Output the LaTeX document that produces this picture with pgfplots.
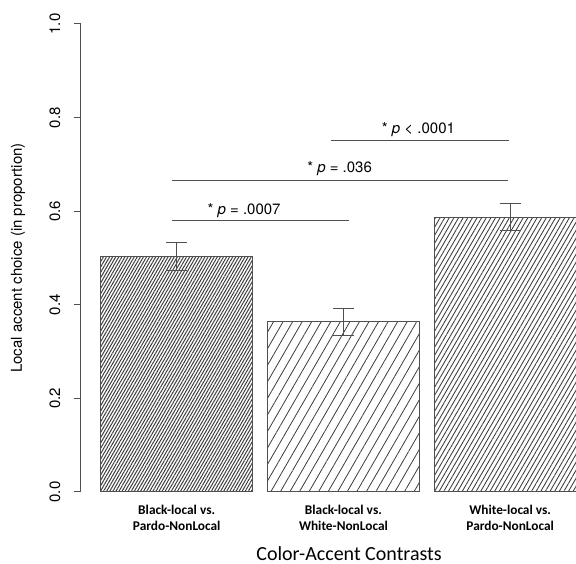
\documentclass[border=0pt]{standalone}
\usepackage{pgfplots}
\pgfplotsset{compat=1.18}
\usepackage{fontspec}
\setmainfont{TeX Gyre Heros}
\newfontfamily\calibri{Carlito}
\usetikzlibrary{patterns.meta}
\definecolor{axgray}{HTML}{505050}
\definecolor{hatch}{HTML}{3C3C3C}
\begin{document}
\begin{tikzpicture}
\path[use as bounding box] (-60.75pt,-54pt) rectangle (371.25pt,369pt);
\begin{axis}[
  at={(0pt,0pt)}, anchor=south west,
  scale only axis,
  width=371.25pt, height=351pt,
  xmin=0.426, xmax=3.395,
  ymin=0, ymax=1,
  clip mode=individual,
  axis y line*=left,
  axis x line=none,
  y axis line style={draw=axgray, line width=0.75pt},
  ytick={0,0.2,0.4,0.6,0.8,1.0},
  tick align=outside,
  major tick length=5.25pt,
  ytick style={draw=axgray, line width=0.75pt},
  /pgf/number format/assume math mode=true,
  yticklabel={\pgfmathprintnumber[fixed,fixed zerofill,precision=1]{\tick}},
  yticklabel style={rotate=90, anchor=south, font=\fontsize{11.25}{13}\selectfont, inner sep=0pt, yshift=10pt},
  ylabel={Local accent choice (in proportion)},
  ylabel style={at={(axis description cs:-0.127,0.5)}, anchor=center, rotate=0, font=\fontsize{11.25}{13}\selectfont, inner sep=0pt},
  error bars/error bar style={draw=axgray, line width=0.75pt},
  error bars/error mark options={draw=axgray, line width=0.75pt, mark size=7.9pt, rotate=90},
]
% bars
\addplot[ybar, bar width=0.912, bar shift=0pt, draw=axgray, line width=0.75pt,
  pattern={Lines[angle=60,distance=2.0pt,line width=0.75pt]}, pattern color=hatch,
  error bars/.cd, y dir=both, y explicit]
  coordinates {(1,0.503) +- (0,0.030)};
\addplot[ybar, bar width=0.912, bar shift=0pt, draw=axgray, line width=0.75pt,
  pattern={Lines[angle=60,distance=6.2pt,line width=0.6pt]}, pattern color=hatch,
  error bars/.cd, y dir=both, y explicit]
  coordinates {(2,0.364) +- (0,0.029)};
\addplot[ybar, bar width=0.912, bar shift=0pt, draw=axgray, line width=0.75pt,
  pattern={Lines[angle=60,distance=3.0pt,line width=0.65pt]}, pattern color=hatch,
  error bars/.cd, y dir=both, y explicit]
  coordinates {(3,0.587) +- (0,0.029)};
% significance lines
\addplot[draw=axgray, line width=0.9pt] coordinates {(0.972,0.580) (2.034,0.580)};
\addplot[draw=axgray, line width=0.9pt] coordinates {(0.972,0.665) (2.988,0.665)};
\addplot[draw=axgray, line width=0.9pt] coordinates {(1.926,0.751) (2.995,0.751)};
\node[anchor=base, inner sep=0pt, font=\fontsize{11.25}{13}\selectfont] at (axis cs:1.404,0.593) {* \textit{p} = .0007};
\node[anchor=base, inner sep=0pt, font=\fontsize{11.25}{13}\selectfont] at (axis cs:1.977,0.682) {* \textit{p} = .036};
\node[anchor=base, inner sep=0pt, font=\fontsize{11.25}{13}\selectfont] at (axis cs:2.45,0.766) {* \textit{p} < .0001};
% category labels
\node[anchor=base, inner sep=0pt, font=\calibri\bfseries\fontsize{10}{12}\selectfont] at (axis cs:1,-0.0491) {Black-local vs.};
\node[anchor=base, inner sep=0pt, font=\calibri\bfseries\fontsize{10}{12}\selectfont] at (axis cs:1,-0.0833) {Pardo-NonLocal};
\node[anchor=base, inner sep=0pt, font=\calibri\bfseries\fontsize{10}{12}\selectfont] at (axis cs:2,-0.0491) {Black-local vs.};
\node[anchor=base, inner sep=0pt, font=\calibri\bfseries\fontsize{10}{12}\selectfont] at (axis cs:2,-0.0833) {White-NonLocal};
\node[anchor=base, inner sep=0pt, font=\calibri\bfseries\fontsize{10}{12}\selectfont] at (axis cs:3,-0.0491) {White-local vs.};
\node[anchor=base, inner sep=0pt, font=\calibri\bfseries\fontsize{10}{12}\selectfont] at (axis cs:3,-0.0833) {Pardo-NonLocal};
\node[anchor=base, inner sep=0pt, font=\calibri\fontsize{15}{18}\selectfont] at (axis cs:2.034,-0.1474) {Color-Accent Contrasts};
\end{axis}
\end{tikzpicture}
\end{document}
